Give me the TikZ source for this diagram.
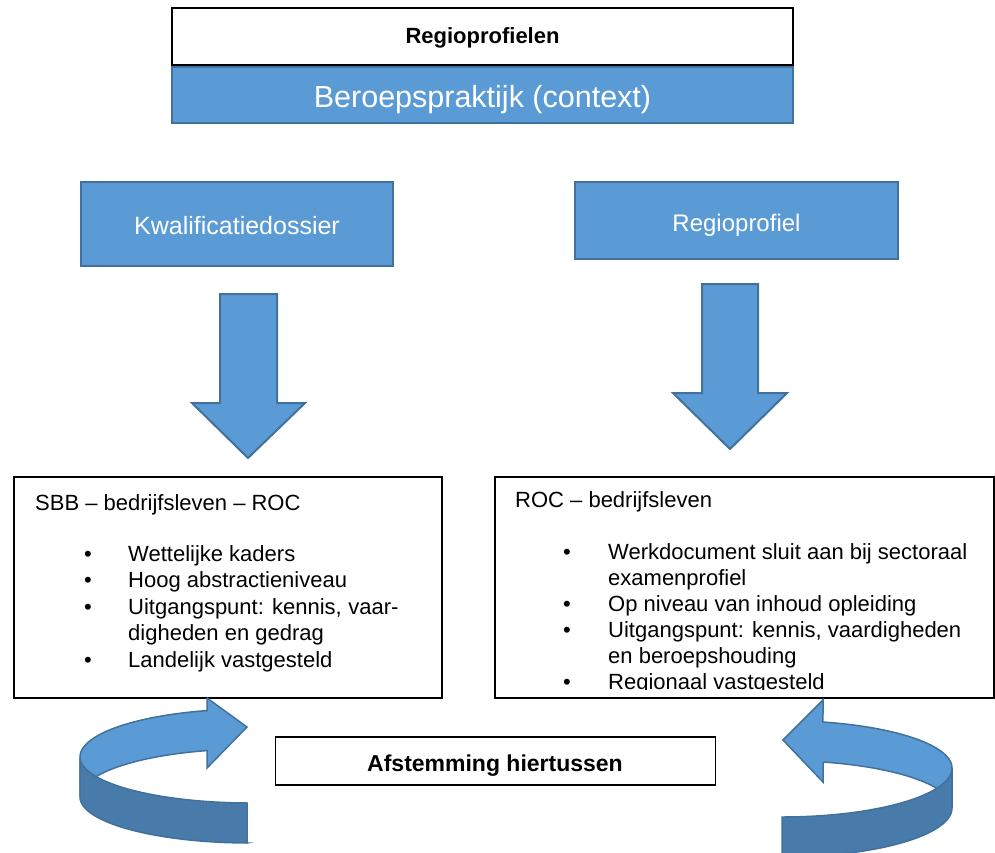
\documentclass[tikz,border=0pt]{standalone}
\usepackage{fontspec}
\setmainfont{Liberation Sans}
\definecolor{accent}{HTML}{5B9BD5}
\definecolor{accentline}{HTML}{41719C}
\definecolor{accentdark}{RGB}{72,122,170}
\begin{document}
\begin{tikzpicture}[x=1pt,y=-1pt,
  bluebox/.style={draw=accentline, fill=accent, line width=2pt, text=white, inner sep=0pt},
  plainbox/.style={draw=black, fill=white, line width=1.6pt, inner sep=0pt},
  blockarrow/.style={draw=accentline, fill=accent, line width=2pt, line join=miter},
  ribbonback/.style={draw=accentline, fill=accent, line width=1.5pt, line join=miter},
  ribbonfront/.style={draw=accentline, fill=accentdark, line width=1.5pt},
  bodytext/.style={anchor=base west, inner sep=0pt, font=\fontsize{22}{26}\selectfont},
  boxlabel/.style={anchor=base, inner sep=0pt, text=white},
]
\clip (0,0) rectangle (995,852);
\fill[white] (0,0) rectangle (995,852);

% top boxes
\node[plainbox, minimum width=621pt, minimum height=57pt] (regios) at (482.5,36.5) {};
\node[anchor=base, inner sep=0pt, font=\bfseries\fontsize{22}{22}\selectfont] (regiostext) at (482.5,43) {Regioprofielen};
\node[bluebox, minimum width=621pt, minimum height=56pt] (praktijk) at (482.5,95) {};
\node[boxlabel, font=\fontsize{30.5}{30.5}\selectfont] (praktijktext) at (482.5,107) {Beroepspraktijk (context)};

% middle boxes
\node[bluebox, minimum width=312pt, minimum height=84pt] (kwal) at (237,223.5) {};
\node[boxlabel, font=\fontsize{25}{25}\selectfont] (kwaltext) at (237,234) {Kwalificatiedossier};
\node[bluebox, minimum width=323pt, minimum height=77pt] (regio) at (736.5,220.5) {};
\node[boxlabel, font=\fontsize{24}{24}\selectfont] (regiotext) at (736.5,231) {Regioprofiel};

% block arrows down
\draw[blockarrow] (220,294) -- (277,294) -- (277,403) -- (305,403) -- (248,458) -- (192,403) -- (220,403) -- cycle;
\draw[blockarrow] (702,284) -- (758,284) -- (758,393) -- (787,393) -- (730,449) -- (673,393) -- (702,393) -- cycle;

% left text box
\node[plainbox, minimum width=428pt, minimum height=221pt, anchor=north west] (leftbox) at (13,476) {};
\node[bodytext] (lh) at (35,510) {SBB – bedrijfsleven – ROC};
\node[bodytext] (lb1) at (84,561) {•};
\node[bodytext] (lt1) at (128,561) {Wettelijke kaders};
\node[bodytext] (lb2) at (84,587.5) {•};
\node[bodytext] (lt2) at (128,587.5) {Hoog abstractieniveau};
\node[bodytext] (lb3) at (84,614) {•};
\node[bodytext] (lt3) at (128,614) {Uitgangspunt: kennis,\hspace{0.3em}vaar-};
\node[bodytext] (lt3b) at (128,640.5) {digheden en gedrag};
\node[bodytext] (lb4) at (84,667) {•};
\node[bodytext] (lt4) at (128,667) {Landelijk vastgesteld};

% right text box
\node[plainbox, minimum width=499pt, minimum height=221pt, anchor=north west] (rightbox) at (494,476) {};
\begin{scope}
\clip (495,477) rectangle (992,689);
\node[bodytext] (rh) at (515,507) {ROC – bedrijfsleven};
\node[bodytext] (rb1) at (563,559) {•};
\node[bodytext] (rt1) at (608,559) {Werkdocument sluit aan bij sectoraal};
\node[bodytext] (rt1b) at (608,585) {examenprofiel};
\node[bodytext] (rb2) at (563,611) {•};
\node[bodytext] (rt2) at (608,611) {Op niveau van inhoud opleiding};
\node[bodytext] (rb3) at (563,637) {•};
\node[bodytext] (rt3) at (608,637) {Uitgangspunt: kennis, vaardigheden};
\node[bodytext] (rt3b) at (608,663) {en beroepshouding};
\node[bodytext] (rb4) at (563,689.5) {•};
\node[bodytext] (rt4) at (608,689.5) {Regionaal vastgesteld};
\end{scope}

% middle bottom box
\node[plainbox, minimum width=440pt, minimum height=48pt] (afst) at (495.5,761) {};
\begin{scope}
\clip (277,738) rectangle (714,775);
\node[anchor=base, inner sep=0pt, font=\bfseries\fontsize{23}{23}\selectfont] (afsttext) at (495,771) {Afstemming hiertussen};
\end{scope}

% left curved arrow
\draw[ribbonback] (80,757)
  -- plot[domain=180:255.35, samples=40, variable=\t] ({250+170*cos(\t)},{757+48*sin(\t)})
  -- (207,698) -- (247,727) -- (207,768) -- (207,750.6)
  -- plot[domain=255.35:180, samples=40, variable=\t] ({250+170*cos(\t)},{797+48*sin(\t)})
  -- cycle;
\draw[ribbonfront] (80,757)
  -- plot[domain=180:91, samples=40, variable=\t] ({250+170*cos(\t)},{757+46*sin(\t)})
  -- (247,843)
  -- plot[domain=91:180, samples=40, variable=\t] ({250+170*cos(\t)},{797+46*sin(\t)})
  -- cycle;

% right curved arrow
\draw[ribbonback] (952,768)
  -- plot[domain=0:-76.05, samples=40, variable=\t] ({782+170*cos(\t)},{768+47.4*sin(\t)})
  -- (823,700) -- (783,740) -- (823,782) -- (823,762)
  -- plot[domain=-76.05:0, samples=40, variable=\t] ({782+170*cos(\t)},{808+47.4*sin(\t)})
  -- cycle;
\draw[ribbonfront] (952,768)
  -- plot[domain=0:90, samples=40, variable=\t] ({782+170*cos(\t)},{768+49*sin(\t)})
  -- (782,857)
  -- plot[domain=90:0, samples=40, variable=\t] ({782+170*cos(\t)},{808+49*sin(\t)})
  -- cycle;
\end{tikzpicture}
\end{document}
